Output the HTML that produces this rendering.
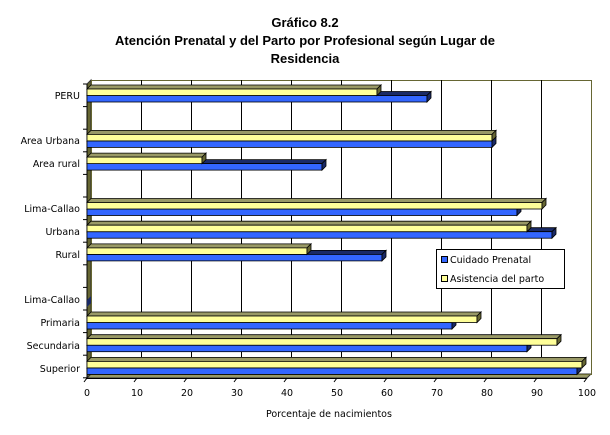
<!DOCTYPE html>
<html><head><meta charset="utf-8"><style>
body{margin:0;background:#fff;width:610px;height:430px;overflow:hidden}
svg text{font-family:"DejaVu Sans","Liberation Sans",sans-serif;font-size:9.5px;fill:#000}
svg text.t{font-family:"Liberation Sans",sans-serif;font-size:13px;font-weight:bold}
</style></head><body>
<svg id="s" width="610" height="430" xmlns="http://www.w3.org/2000/svg">
<g id="bg"></g>
<g id="bars"></g>
<text class="t" x="305" y="27" text-anchor="middle">Gráfico 8.2</text>
<text class="t" x="305" y="45" text-anchor="middle">Atención Prenatal y del Parto por Profesional según Lugar de</text>
<text class="t" x="305" y="63" text-anchor="middle">Residencia</text>
<g text-anchor="end">
<text x="80" y="99">PERU</text>
<text x="80" y="144">Area Urbana</text>
<text x="80" y="167">Area rural</text>
<text x="80" y="212">Lima-Callao</text>
<text x="80" y="235">Urbana</text>
<text x="80" y="258">Rural</text>
<text x="80" y="303">Lima-Callao</text>
<text x="80" y="326">Primaria</text>
<text x="80" y="349">Secundaria</text>
<text x="80" y="372">Superior</text>
</g>
<g text-anchor="middle">
<text x="87" y="396">0</text><text x="137" y="396">10</text><text x="187" y="396">20</text><text x="237" y="396">30</text><text x="287" y="396">40</text><text x="337" y="396">50</text><text x="387" y="396">60</text><text x="437" y="396">70</text><text x="487" y="396">80</text><text x="537" y="396">90</text><text x="587" y="396">100</text>
<text x="329" y="417">Porcentaje de nacimientos</text>
</g>
<rect x="436.5" y="249.5" width="128" height="39" fill="#fff" stroke="#000"/>
<rect x="441.5" y="256.5" width="6" height="6" fill="#3366ff" stroke="#000"/>
<rect x="441.5" y="275.5" width="6" height="6" fill="#ffff99" stroke="#000"/>
<text x="450" y="263">Cuidado Prenatal</text>
<text x="450" y="282">Asistencia del parto</text>
</svg>
<script>
var NS="http://www.w3.org/2000/svg";
function el(p,t,a){var e=document.createElementNS(NS,t);for(var k in a)e.setAttribute(k,a[k]);document.getElementById(p).appendChild(e);}
el("bg","polygon",{points:"87,84 91,80 91,374 87,378",fill:"#666633",stroke:"#333"});
el("bg","polygon",{points:"87,378 91,374 591,374 587,378",fill:"#999966",stroke:"#333"});
el("bg","rect",{x:91.5,y:80.5,width:500,height:294,fill:"none",stroke:"#666633"});
for(var k=1;k<=9;k++){var x=91+50*k+0.5;el("bg","line",{x1:x,y1:80,x2:x,y2:374,stroke:"#000"});}
for(var k=0;k<=10;k++){var x=87+50*k;el("bg","line",{x1:x,y1:378,x2:x-3,y2:382,stroke:"#000"});}
for(var i=0;i<=13;i++){var y=84+i*22.6;el("bg","line",{x1:83,y1:y,x2:87,y2:y,stroke:"#000"});}
el("bg","line",{x1:87,y1:84,x2:87,y2:378,stroke:"#000"});
el("bg","line",{x1:87,y1:378.5,x2:587,y2:378.5,stroke:"#000"});
var d=[[0,58,68],[2,81,81],[3,23,47],[5,91,86],[6,88,93],[7,44,59],[10,78,73],[11,94,88],[12,99,98]];
d.forEach(function(r){var Y=89+22.7*r[0],Wy=87+5*r[1],Wb=87+5*r[2];var s={stroke:"#000","stroke-width":0.8};
function P(pts,f){el("bars","polygon",Object.assign({points:pts,fill:f},s));}
P([87,Y+6.5,91,Y+2.5,Wb+4,Y+2.5,Wb,Y+6.5].join(),"#1a2a66");
el("bars","rect",Object.assign({x:87,y:Y+6.5,width:Wb-87,height:6.5,fill:"#3366ff"},s));
P([Wb,Y+6.5,Wb+4,Y+2.5,Wb+4,Y+9,Wb,Y+13].join(),"#1a2a66");
P([87,Y,91,Y-4,Wy+4,Y-4,Wy,Y].join(),"#999966");
el("bars","rect",Object.assign({x:87,y:Y,width:Wy-87,height:6.5,fill:"#ffff99"},s));
P([Wy,Y,Wy+4,Y-4,Wy+4,Y+2.5,Wy,Y+6.5].join(),"#666633");
});
el("bars","polygon",{points:"87,300 91,296 91,303 87,307",fill:"#1a2a66"});
</script>
</body></html>
